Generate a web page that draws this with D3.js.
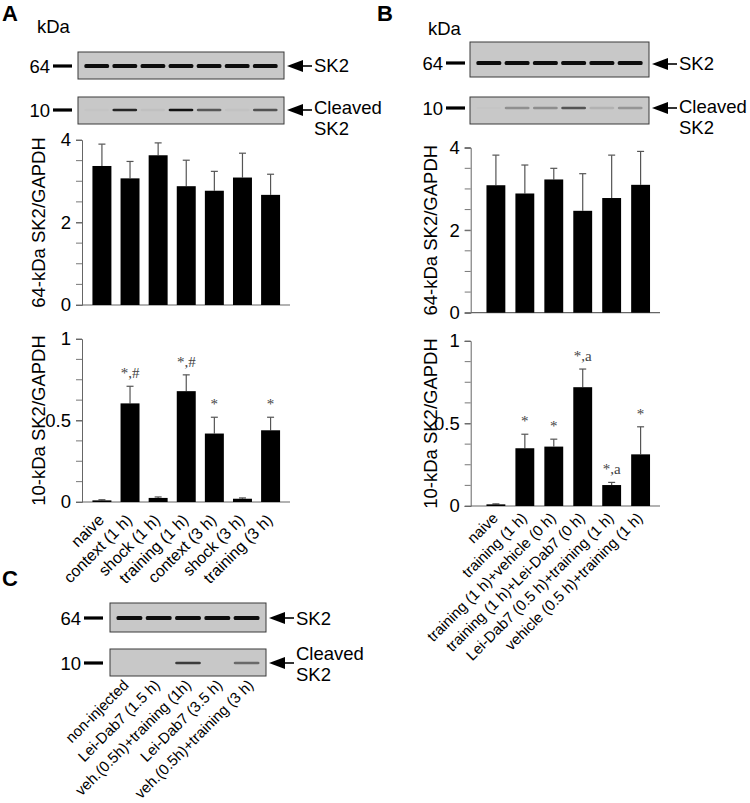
<!doctype html>
<html>
<head>
<meta charset="utf-8">
<title>SK2 cleavage</title>
<script src="https://d3js.org/d3.v7.min.js"></script>
<style>
  body { margin: 0; background: #fff; }
  svg { display: block; font-family: "Liberation Sans", Arial, sans-serif; -webkit-font-smoothing: antialiased; }
  .mark { font-family: "Liberation Serif", "Times New Roman", serif; }
</style>
</head>
<body>
<svg id="fig" width="750" height="803"></svg>
<script>
// ---- data ----
var aGroups = ["naive", "context (1 h)", "shock (1 h)", "training (1 h)", "context (3 h)", "shock (3 h)", "training (3 h)"];
var a64Mean = [3.37, 3.07, 3.63, 2.88, 2.77, 3.09, 2.67];
var a64Err  = [0.53, 0.41, 0.30, 0.63, 0.47, 0.59, 0.50];
var a10Mean = [0.01, 0.605, 0.025, 0.68, 0.42, 0.02, 0.44];
var a10Err  = [0.004, 0.105, 0.006, 0.10, 0.10, 0.005, 0.08];
var a10Marks = ["", "*,#", "", "*,#", "*", "", "*"];

var bGroups = ["naive", "training (1 h)", "training (1 h)+vehicle (0 h)", "training (1 h)+Lei-Dab7 (0 h)", "Lei-Dab7 (0.5 h)+training (1 h)", "vehicle (0.5 h)+training (1 h)"];
var b64Mean = [3.09, 2.89, 3.23, 2.47, 2.78, 3.10];
var b64Err  = [0.73, 0.69, 0.27, 0.90, 1.04, 0.81];
var b10Mean = [0.01, 0.35, 0.36, 0.72, 0.127, 0.313];
var b10Err  = [0.003, 0.085, 0.045, 0.11, 0.016, 0.167];
var b10Marks = ["", "*", "*", "*,a", "*,a", "*"];

var cLanes = ["non-injected", "Lei-Dab7 (1.5 h)", "veh.(0.5h)+training (1h)", "Lei-Dab7 (3.5 h)", "veh.(0.5h)+training (3 h)"];
var c64Band = [1, 1, 1, 1, 1];
var c10Band = [0, 0, 0.75, 0, 0.5];

var ticks64 = [0, 2, 4];
var ticks10 = [0, 0.5, 1];

var svg = d3.select("#fig");
var FS = 18.5;

// blur for the blot bands
var defs = svg.append("defs");
defs.append("filter").attr("id", "blur")
    .attr("x", "-20%").attr("y", "-100%").attr("width", "140%").attr("height", "300%")
  .append("feGaussianBlur").attr("stdDeviation", 0.7);

function panelLetter(t, x, y) {
  svg.append("text").attr("x", x).attr("y", y).attr("font-size", 22)
    .attr("font-weight", "bold").text(t);
}

// one western blot strip
function blot(o) {
  var g = svg.append("g");
  g.append("rect").attr("x", o.x0).attr("y", o.y0)
    .attr("width", o.x1 - o.x0).attr("height", o.y1 - o.y0)
    .attr("fill", "#c8c8c8").attr("stroke", "#3a3a3a").attr("stroke-width", 1);
  var lane = d3.scaleBand().domain(d3.range(o.bands.length))
    .range([o.x0 + 3, o.x1 - 3]).padding(0.12);
  var op = d3.scaleLinear().domain([0, 0.7]).range([0, 1]).clamp(true);
  g.selectAll("rect.band").data(o.bands).join("rect")
    .attr("class", "band")
    .attr("x", function(d, i) { return lane(i); })
    .attr("y", function(d) { return o.band - (o.thick ? 2 : 1.3); })
    .attr("width", lane.bandwidth())
    .attr("height", o.thick ? 4 : 2.6)
    .attr("rx", 1.5)
    .attr("fill", "#111")
    .attr("opacity", function(d) { return o.scaleOp ? op(d) : d; })
    .attr("filter", "url(#blur)");
  // size marker
  g.append("line").attr("x1", o.dash[0]).attr("x2", o.dash[1])
    .attr("y1", o.band).attr("y2", o.band)
    .attr("stroke", "#000").attr("stroke-width", 3.2);
  g.append("text").attr("x", o.dash[0] - 3).attr("y", o.band + 7)
    .attr("text-anchor", "end").attr("font-size", FS).text(o.kda);
  // arrow
  var ax = o.x1 + 3, ay = o.arrowY;
  g.append("path")
    .attr("d", "M" + ax + "," + ay + "L" + (ax + 16) + "," + (ay - 6) + "L" + (ax + 16) + "," + (ay + 6) + "Z")
    .attr("fill", "#000");
  g.append("line").attr("x1", ax + 14).attr("x2", ax + 25)
    .attr("y1", ay).attr("y2", ay).attr("stroke", "#000").attr("stroke-width", 1.6);
  var t = g.append("text").attr("x", ax + 27).attr("font-size", FS);
  o.label.forEach(function(s, i) {
    t.append("tspan").attr("x", ax + 27).attr("y", o.labelY + i * 21).text(s);
  });
}

// bar chart with upper error bars
function bars(o) {
  var g = svg.append("g");
  var y = d3.scaleLinear().domain([0, o.max]).range([o.yb, o.yt]);
  var x = d3.scaleBand().domain(d3.range(o.mean.length))
    .range([o.xr0, o.xr1]).paddingInner(o.pad).paddingOuter(o.padOut);

  // minor ticks, then the main axis
  var minor = d3.range(0, o.max + 1e-9, o.max / 8);
  g.selectAll("line.minor").data(minor).join("line")
    .attr("x1", o.ax - 6).attr("x2", o.ax)
    .attr("y1", function(d) { return y(d); }).attr("y2", function(d) { return y(d); })
    .attr("stroke", "#777").attr("stroke-width", 1);
  var axis = g.append("g").attr("transform", "translate(" + o.ax + ",0)")
    .call(d3.axisLeft(y).tickValues(o.ticks).tickSize(6).tickPadding(5)
      .tickFormat(d3.format("~g")));
  axis.select(".domain").attr("stroke", "#666");
  axis.selectAll(".tick line").attr("stroke", "#666");
  axis.selectAll("text").attr("font-size", FS)
    .attr("font-family", "Liberation Sans, Arial, sans-serif").attr("fill", "#000");

  g.append("line").attr("x1", o.ax).attr("x2", o.axEnd)
    .attr("y1", o.yb).attr("y2", o.yb).attr("stroke", "#666").attr("stroke-width", 1.2);

  var eb = g.selectAll("g.err").data(o.mean).join("g").attr("class", "err");
  eb.append("line")
    .attr("x1", function(d, i) { return x(i) + x.bandwidth() / 2; })
    .attr("x2", function(d, i) { return x(i) + x.bandwidth() / 2; })
    .attr("y1", function(d) { return y(d); })
    .attr("y2", function(d, i) { return y(d + o.err[i]); })
    .attr("stroke", "#555").attr("stroke-width", 1.2);
  eb.append("line")
    .attr("x1", function(d, i) { return x(i) + x.bandwidth() / 2 - 3.5; })
    .attr("x2", function(d, i) { return x(i) + x.bandwidth() / 2 + 3.5; })
    .attr("y1", function(d, i) { return y(d + o.err[i]); })
    .attr("y2", function(d, i) { return y(d + o.err[i]); })
    .attr("stroke", "#555").attr("stroke-width", 1.2);

  g.selectAll("rect.bar").data(o.mean).join("rect").attr("class", "bar")
    .attr("x", function(d, i) { return x(i); })
    .attr("y", function(d) { return y(d); })
    .attr("width", x.bandwidth())
    .attr("height", function(d) { return y(0) - y(d); })
    .attr("fill", "#000");

  if (o.marks) {
    g.selectAll("text.mark").data(o.marks).join("text").attr("class", "mark")
      .attr("x", function(d, i) { return x(i) + x.bandwidth() / 2; })
      .attr("y", function(d, i) { return y(o.mean[i] + o.err[i]) - 8; })
      .attr("text-anchor", "middle").attr("font-size", 15).attr("fill", "#444")
      .text(function(d) { return d; });
  }

  svg.append("text")
    .attr("transform", "translate(" + o.labX + "," + ((o.yb + o.yt) / 2) + ") rotate(-90)")
    .attr("text-anchor", "middle").attr("font-size", FS).text(o.ylab);

  if (o.names) {
    g.selectAll("text.name").data(o.names).join("text").attr("class", "name")
      .attr("transform", function(d, i) {
        return "translate(" + (x(i) + x.bandwidth() / 2 + 3) + "," + (o.yb + o.nameOff) + ") rotate(-45)";
      })
      .attr("text-anchor", "end").attr("font-size", o.nameFS).text(function(d) { return d; });
  }
}

// ---------- panel A ----------
panelLetter("A", 2, 21);
svg.append("text").attr("x", 37).attr("y", 33).attr("font-size", FS).text("kDa");
blot({x0: 78, x1: 284, y0: 52, y1: 79, band: 66, arrowY: 66, labelY: 72, thick: true,
      bands: a64Mean.map(function() { return 1; }), dash: [53, 72], kda: "64", label: ["SK2"]});
blot({x0: 78, x1: 284, y0: 97, y1: 124, band: 110, arrowY: 110, labelY: 114,
      bands: a10Mean, scaleOp: true, dash: [53, 72], kda: "10", label: ["Cleaved", "SK2"]});
bars({mean: a64Mean, err: a64Err, max: 4, ticks: ticks64, yb: 305, yt: 140,
      ax: 82, axEnd: 290, xr0: 84, xr1: 288.5, pad: 0.325, padOut: 0.3,
      labX: 45, ylab: "64-kDa SK2/GAPDH"});
bars({mean: a10Mean, err: a10Err, max: 1, ticks: ticks10, yb: 502, yt: 339,
      ax: 82, axEnd: 290, xr0: 84, xr1: 288.5, pad: 0.325, padOut: 0.3,
      labX: 45, ylab: "10-kDa SK2/GAPDH", marks: a10Marks, names: aGroups, nameOff: 19, nameFS: 16});

// ---------- panel B ----------
panelLetter("B", 377, 21);
svg.append("text").attr("x", 428).attr("y", 35).attr("font-size", FS).text("kDa");
blot({x0: 470, x1: 649, y0: 42, y1: 77, band: 63, arrowY: 64, labelY: 70, thick: true,
      bands: b64Mean.map(function() { return 1; }), dash: [446, 465], kda: "64", label: ["SK2"]});
blot({x0: 470, x1: 649, y0: 97, y1: 124, band: 108, arrowY: 108, labelY: 113,
      bands: b10Mean.map(function(d) { return d * 0.6; }), scaleOp: true, dash: [446, 465], kda: "10", label: ["Cleaved", "SK2"]});
bars({mean: b64Mean, err: b64Err, max: 4, ticks: ticks64, yb: 312.7, yt: 147.7,
      ax: 470.7, axEnd: 660, xr0: 472, xr1: 664.5, pad: 0.348, padOut: 0.5,
      labX: 437, ylab: "64-kDa SK2/GAPDH"});
bars({mean: b10Mean, err: b10Err, max: 1, ticks: ticks10, yb: 506, yt: 341,
      ax: 470.7, axEnd: 660, xr0: 472, xr1: 664.5, pad: 0.348, padOut: 0.5,
      labX: 437, ylab: "10-kDa SK2/GAPDH", marks: b10Marks, names: bGroups, nameOff: 13, nameFS: 15});

// ---------- panel C ----------
panelLetter("C", 2, 586);
blot({x0: 110, x1: 266, y0: 603, y1: 632, band: 618, arrowY: 618, labelY: 625, thick: true,
      bands: c64Band, dash: [84, 103], kda: "64", label: ["SK2"]});
blot({x0: 110, x1: 266, y0: 649, y1: 676, band: 663, arrowY: 663, labelY: 660,
      bands: c10Band, dash: [84, 103], kda: "10", label: ["Cleaved", "SK2"]});
var cx = d3.scaleBand().domain(d3.range(cLanes.length)).range([110, 266]);
svg.selectAll("text.cname").data(cLanes).join("text").attr("class", "cname")
  .attr("transform", function(d, i) {
    return "translate(" + (cx(i) + cx.bandwidth() / 2 + 4) + ",686) rotate(-45)";
  })
  .attr("text-anchor", "end").attr("font-size", 15).text(function(d) { return d; });
</script>
</body>
</html>
